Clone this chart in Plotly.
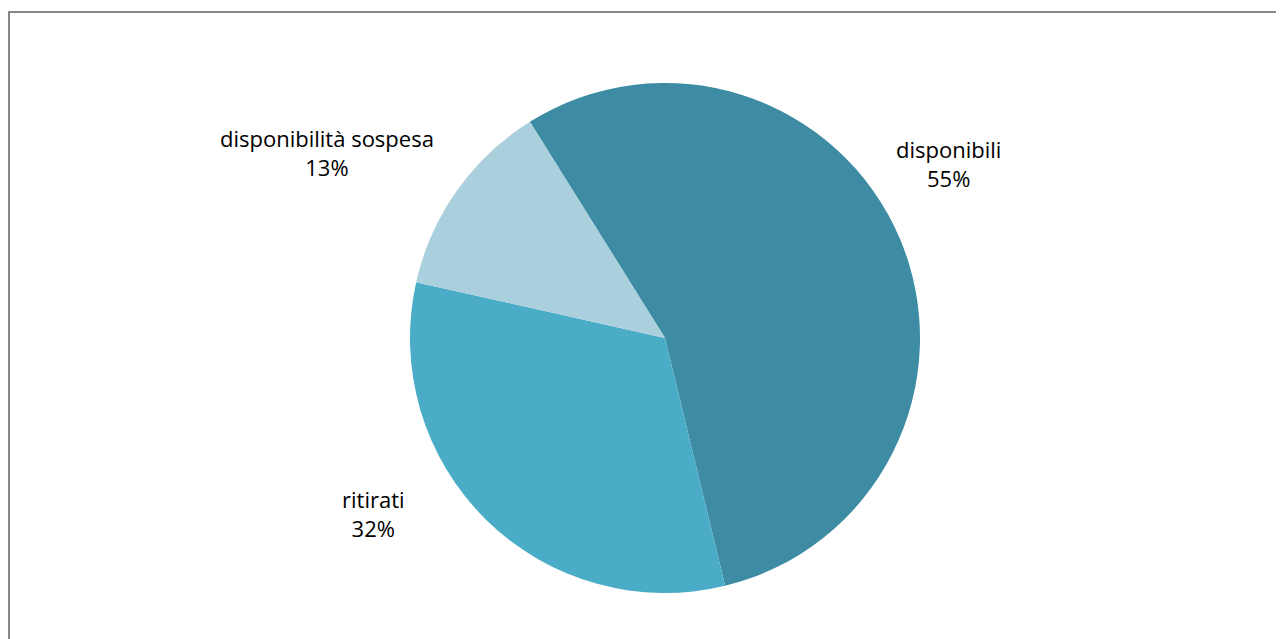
import plotly.graph_objects as go

labels = ["disponibili", "ritirati", "disponibilità sospesa"]
values = [55.1, 32.3, 12.6]
colors = ["#3d8ca3", "#4aacc6", "#aacfdd"]
# label anchor positions (pixels in the 1284x639 window)
label_pos = [(948, 164), (373, 513), (327, 153)]

W, H = 1284, 639
OFF = 8  # page body margin


def px_x(x):
    return (x - OFF) / W


def px_y(y):
    return 1 - (y - OFF) / H


fig = go.Figure(go.Pie(
    labels=labels, values=values, sort=False, direction="clockwise",
    rotation=-32, marker=dict(colors=colors, line=dict(width=0)),
    textinfo="none", hoverinfo="label+percent",
    domain=dict(x=[px_x(410), px_x(920)], y=[px_y(593), px_y(83)]),
    showlegend=False,
))

total = sum(values)
for lab, v, (px, py) in zip(labels, values, label_pos):
    fig.add_annotation(
        x=px_x(px), y=px_y(py), xref="paper", yref="paper",
        text=f"{lab}<br>{round(100 * v / total)}%", showarrow=False,
        font=dict(family="Open Sans, Liberation Sans, sans-serif", size=22, color="#000000"),
        align="center", xanchor="center", yanchor="middle",
    )

fig.add_shape(type="rect", xref="paper", yref="paper",
              x0=px_x(9), x1=1.02, y0=-0.02, y1=px_y(12),
              line=dict(color="#878787", width=2), fillcolor="rgba(0,0,0,0)")

fig.update_layout(width=W, height=H, margin=dict(l=0, r=0, t=0, b=0),
                  paper_bgcolor="white", plot_bgcolor="white")
fig.write_html("out.html")
